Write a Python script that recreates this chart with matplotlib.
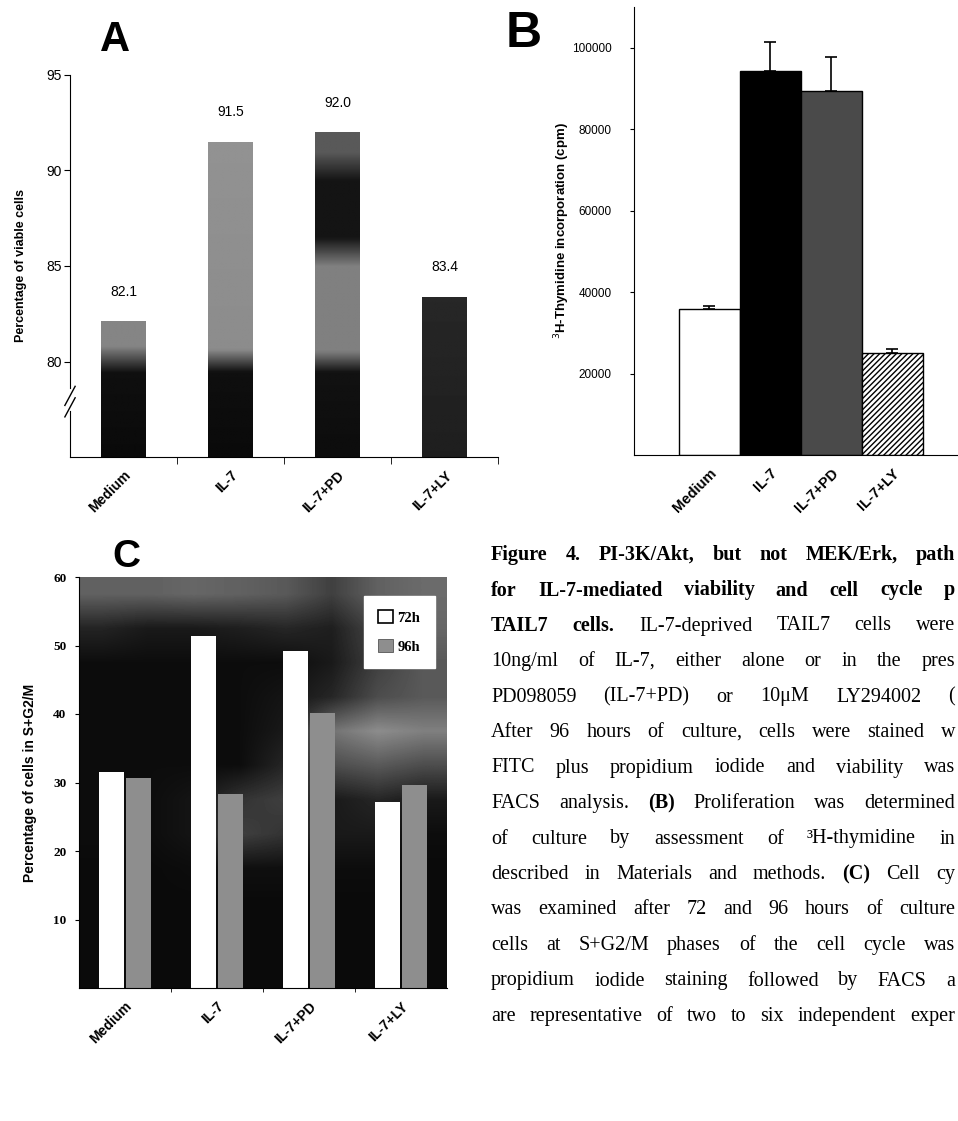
import numpy as np
import matplotlib
matplotlib.use("Agg")
import matplotlib.pyplot as plt
import matplotlib.transforms as mtransforms
from matplotlib.patches import Patch

conditions = ["Medium", "IL-7", "IL-7+PD", "IL-7+LY"]

# A: percentage of viable cells after 96 h
viable_pct = [82.1, 91.5, 92.0, 83.4]
viable_text = ["82.1", "91.5", "92.0", "83.4"]

# B: 3H-thymidine incorporation (cpm), upper error only
thymidine_cpm = [35800, 94300, 89300, 25000]
thymidine_err = [700, 7100, 8400, 1000]

# C: percentage of cells in S+G2/M
cycle_72h = [31.6, 51.4, 49.2, 27.2]
cycle_96h = [30.7, 28.3, 40.2, 29.7]
cycle_series = ["72h", "96h"]

# caption, visible part of each line: (text, bold)
caption_lines = [
    [("Figure 4. PI-3K/Akt, but not MEK/Erk, path", True)],
    [("for IL-7-mediated viability and cell cycle p", True)],
    [("TAIL7 cells.", True), ("IL-7-deprived TAIL7 cells were", False)],
    [("10ng/ml of IL-7, either alone or in the pres", False)],
    [("PD098059 (IL-7+PD) or 10\u03bcM LY294002 (", False)],
    [("After 96 hours of culture, cells were stained w", False)],
    [("FITC plus propidium iodide and viability was", False)],
    [("FACS analysis.", False), ("(B)", True), ("Proliferation was determined", False)],
    [("of culture by assessment of \u00b3H-thymidine in", False)],
    [("described in Materials and methods.", False), ("(C)", True), ("Cell cy", False)],
    [("was examined after 72 and 96 hours of culture", False)],
    [("cells at S+G2/M phases of the cell cycle was", False)],
    [("propidium iodide staining followed by FACS a", False)],
    [("are representative of two to six independent exper", False)],
]

W, H = 958, 1121
fig = plt.figure(figsize=(W / 100, H / 100), dpi=100)
SANS = "Liberation Sans"
SERIF = "Liberation Serif"


def px_axes(left, top, right, bottom):
    return fig.add_axes([left / W, 1 - bottom / H, (right - left) / W, (bottom - top) / H])


# ---------------- panel A ----------------
axA = px_axes(70, 75, 498, 457)
xa = np.arange(len(conditions))
bars_a = axA.bar(xa, np.array(viable_pct) - 75, bottom=75, width=0.42,
                 color="none", edgecolor="none", zorder=2)
shade_a = [
    ([75, 79.4, 80.8, 95], [0.04, 0.06, 0.52, 0.55]),
    ([75, 79.4, 80.6, 95], [0.04, 0.06, 0.55, 0.58]),
    ([75, 79.4, 80.5, 85, 86.5, 89.5, 91, 95], [0.05, 0.07, 0.5, 0.5, 0.08, 0.08, 0.35, 0.35]),
    ([75, 95], [0.12, 0.2]),
]
for bar, (ys, gs) in zip(bars_a, shade_a):
    y0 = bar.get_y()
    y1 = y0 + bar.get_height()
    yy = np.linspace(y1, y0, 120)
    img = np.repeat(np.interp(yy, ys, gs)[:, None], 2, axis=1)
    im = axA.imshow(img, cmap="gray", vmin=0, vmax=1, aspect="auto", origin="upper",
                    extent=(bar.get_x(), bar.get_x() + bar.get_width(), y0, y1),
                    interpolation="bilinear", zorder=2)
    im.set_clip_path(bar)
for x, v, s in zip(xa, viable_pct, viable_text):
    axA.text(x, v + 1.55, s, ha="center", va="center", fontsize=10, family=SANS)
axA.set_xlim(-0.5, 3.5)
axA.set_ylim(75, 95)
axA.set_yticks([80, 85, 90, 95])
axA.set_yticklabels(["80", "85", "90", "95"], fontsize=10, family=SANS)
axA.set_xticks(xa)
axA.set_xticklabels(conditions, rotation=45, ha="right", rotation_mode="anchor",
                    fontsize=10, fontweight="bold", family=SANS)
axA.tick_params(axis="x", length=0, pad=8)
axA.set_xticks([0.5, 1.5, 2.5, 3.5], minor=True)
axA.tick_params(axis="x", which="minor", length=5, direction="out")
axA.tick_params(axis="y", length=4, direction="out", pad=2)
for sp in ["top", "right"]:
    axA.spines[sp].set_visible(False)
axA.spines["left"].set_bounds(78.6, 95)
axA.set_ylabel("Percentage of viable cells", fontsize=9, fontweight="bold",
               family=SANS, labelpad=14)
trA = mtransforms.blended_transform_factory(axA.transAxes, axA.transData)
axA.plot([-0.012, 0.012], [77.7, 78.7], color="black", lw=1, transform=trA, clip_on=False)
axA.plot([-0.012, 0.012], [77.1, 78.1], color="black", lw=1, transform=trA, clip_on=False)
axA.plot([0, 0], [75, 77.4], color="black", lw=0.8, transform=trA, clip_on=False)
fig.text(115 / W, 1 - 40 / H, "A", fontsize=30, fontweight="bold", family=SANS,
         ha="center", va="center")

# ---------------- panel B ----------------
axB = px_axes(634, 7, 958, 455)
xb = np.arange(len(conditions))
bars_b = axB.bar(xb, thymidine_cpm, width=1.0,
                 color=["white", "black", "#4a4a4a", "white"],
                 edgecolor="black", linewidth=1, zorder=2)
bars_b[3].set_hatch("//////")
axB.errorbar(xb, thymidine_cpm, yerr=[np.zeros(len(xb)), thymidine_err], fmt="none",
             ecolor="black", elinewidth=1.2, capsize=4, capthick=1.2, zorder=3)
axB.set_xlim(-1.23, 4.08)
axB.set_ylim(0, 110000)
axB.set_yticks([20000, 40000, 60000, 80000, 100000])
axB.set_yticklabels(["20000", "40000", "60000", "80000", "100000"], fontsize=8.5, family=SANS)
axB.tick_params(axis="y", length=3, direction="out", pad=13)
axB.set_xticks(xb)
axB.set_xticklabels(conditions, rotation=45, ha="right", rotation_mode="anchor",
                    fontsize=10.5, fontweight="bold", family=SANS)
axB.tick_params(axis="x", length=0, pad=8)
for sp in ["top", "right"]:
    axB.spines[sp].set_visible(False)
axB.set_ylabel("$^{3}$H-Thymidine incorporation (cpm)", fontsize=9.5, fontweight="bold",
               family=SANS, labelpad=0)
fig.text(524 / W, 1 - 34 / H, "B", fontsize=36, fontweight="bold", family=SANS,
         ha="center", va="center")

# ---------------- panel C ----------------
axC = px_axes(79, 577, 447, 988)
xc = np.arange(len(conditions))
backdrop = np.array([
    [0.38, 0.38, 0.40, 0.38, 0.35, 0.25, 0.38, 0.42],
    [0.14, 0.10, 0.10, 0.12, 0.15, 0.12, 0.28, 0.40],
    [0.05, 0.05, 0.05, 0.05, 0.05, 0.10, 0.25, 0.35],
    [0.05, 0.05, 0.05, 0.05, 0.08, 0.15, 0.30, 0.35],
    [0.05, 0.05, 0.05, 0.05, 0.10, 0.45, 0.55, 0.50],
    [0.05, 0.05, 0.05, 0.05, 0.15, 0.30, 0.35, 0.30],
    [0.05, 0.05, 0.08, 0.20, 0.25, 0.10, 0.15, 0.10],
    [0.05, 0.05, 0.08, 0.25, 0.20, 0.10, 0.10, 0.05],
    [0.04, 0.04, 0.05, 0.06, 0.06, 0.05, 0.05, 0.04],
    [0.04, 0.04, 0.04, 0.04, 0.04, 0.04, 0.04, 0.04],
    [0.04, 0.04, 0.04, 0.04, 0.04, 0.04, 0.04, 0.04],
    [0.04, 0.04, 0.04, 0.04, 0.04, 0.04, 0.04, 0.04],
])
axC.imshow(backdrop, cmap="gray", vmin=0, vmax=1, aspect="auto", origin="upper",
           extent=(-0.5, 3.5, 0, 60), interpolation="bilinear", zorder=0)
bw = 0.27
axC.bar(xc - 0.145, cycle_72h, width=bw, color="white", edgecolor="none", zorder=2,
        label=cycle_series[0])
axC.bar(xc + 0.145, cycle_96h, width=bw, color="#8e8e8e", edgecolor="none", zorder=2,
        label=cycle_series[1])
axC.set_xlim(-0.5, 3.5)
axC.set_ylim(0, 60)
axC.set_yticks([10, 20, 30, 40, 50, 60])
axC.set_yticklabels(["10", "20", "30", "40", "50", "60"], fontsize=9.5, fontweight="bold",
                    family=SERIF)
axC.tick_params(axis="y", length=3, direction="out", pad=6)
axC.set_xticks(xc)
axC.set_xticklabels(conditions, rotation=45, ha="right", rotation_mode="anchor",
                    fontsize=10, fontweight="bold", family=SANS)
axC.tick_params(axis="x", length=0, pad=8)
axC.set_xticks([0.5, 1.5, 2.5], minor=True)
axC.tick_params(axis="x", which="minor", length=3, direction="out")
for sp in ["top", "right"]:
    axC.spines[sp].set_visible(False)
axC.set_ylabel("Percentage of cells in S+G2/M", fontsize=10, fontweight="bold",
               family=SANS, labelpad=12)
handles = [Patch(facecolor="white", edgecolor="black", linewidth=1.2),
           Patch(facecolor="#8e8e8e", edgecolor="#555555", linewidth=0.6)]
leg = axC.legend(handles, cycle_series, loc="center", bbox_to_anchor=(0.87, 0.866),
                 frameon=True, fancybox=False, edgecolor="white", facecolor="white",
                 framealpha=1, handlelength=1.0, handleheight=1.0, handletextpad=0.3,
                 labelspacing=1.0, borderpad=1.0, borderaxespad=0,
                 prop={"family": SERIF, "weight": "bold", "size": 10.5})
leg.set_zorder(5)
fig.text(126 / W, 1 - 557 / H, "C", fontsize=28, fontweight="bold", family=SANS,
         ha="center", va="center")

# ---------------- caption (justified) ----------------
fig.canvas.draw()
renderer = fig.canvas.get_renderer()
cap_size = 14.5
x_left, x_right = 491, 955
space_px = 0.25 * cap_size * 100 / 72
for i, segments in enumerate(caption_lines):
    y = 1 - (555 + i * 35.5) / H
    words = []
    for seg, bold in segments:
        for w in seg.split(" "):
            t = fig.text(0, y, w, fontsize=cap_size, family=SERIF,
                         fontweight="bold" if bold else "normal", va="center", ha="left")
            words.append((t, t.get_window_extent(renderer).width))
    total = sum(wd for _, wd in words)
    gap = space_px
    if len(words) > 1:
        gap = (x_right - x_left - total) / (len(words) - 1)
    x = x_left
    for t, wd in words:
        t.set_x(x / W)
        x += wd + gap

fig.savefig("out.png", dpi=100)
